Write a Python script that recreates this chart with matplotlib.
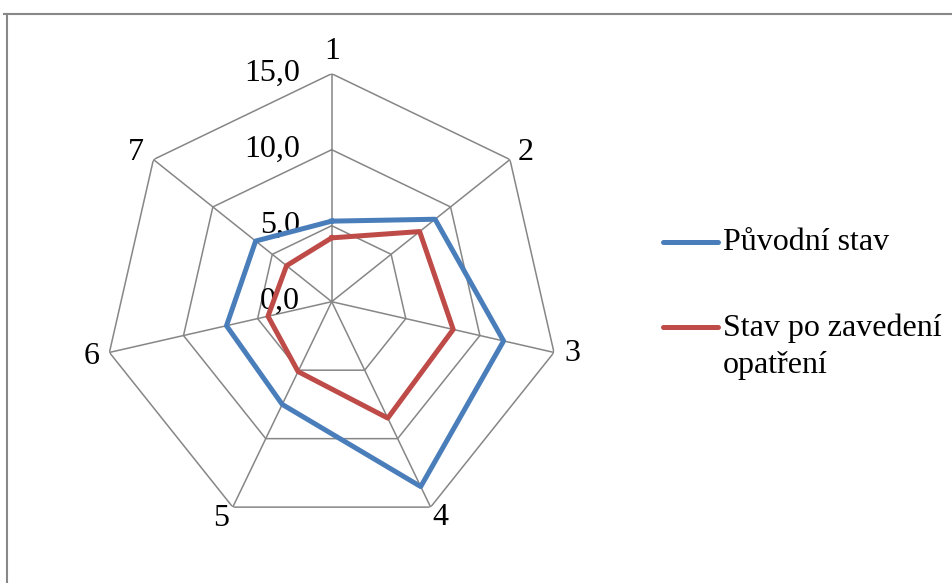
import numpy as np
import matplotlib
matplotlib.use("Agg")
import matplotlib.pyplot as plt
from matplotlib.lines import Line2D

plt.rcParams['font.family'] = ['Liberation Serif', 'DejaVu Serif']

# Radar chart data
categories = ['1', '2', '3', '4', '5', '6', '7']
puvodni_stav = [5.3, 8.7, 11.6, 13.5, 7.5, 7.1, 6.4]
stav_po_zavedeni = [4.2, 7.4, 8.2, 8.5, 5.1, 4.3, 3.8]
series_names = ['Původní stav', 'Stav po zavedení\nopatření']
ring_values = [0, 5, 10, 15]
ring_labels = ['0,0', '5,0', '10,0', '15,0']

W, H = 953, 583
FS = 23
fig = plt.figure(figsize=(W / 100, H / 100), dpi=100)

cx, cy, R = 331.7, 301.7, 228.0
ax = fig.add_axes([(cx - R) / W, (H - cy - R) / H, 2 * R / W, 2 * R / H],
                  projection='polar')
ax.set_theta_zero_location('N')
ax.set_theta_direction(-1)
ax.set_ylim(0, ring_values[-1])
ax.set_axis_off()

n = len(categories)
angles = np.linspace(0, 2 * np.pi, n, endpoint=False)
closed = np.append(angles, angles[0])

grid_color = '#868686'
# polygon rings
for rv in ring_values[1:]:
    ax.plot(closed, [rv] * (n + 1), color=grid_color, lw=1.1, zorder=1)
# spokes
for a in angles:
    ax.plot([a, a], [0, ring_values[-1]], color=grid_color, lw=1.1, zorder=1)

# ring value labels along the first spoke
for rv, lab in zip(ring_values, ring_labels):
    ax.annotate(lab, xy=(0, rv), xytext=(-32, 0), textcoords='offset pixels',
                ha='right', va='center', fontsize=FS, color='black')

# category labels just outside each vertex
label_offsets = [(0, 22), (16, 7), (18, -1), (10, -10), (-12, -11), (-18, -4), (-18, 7)]
for a, lab, off in zip(angles, categories, label_offsets):
    ax.annotate(lab, xy=(a, ring_values[-1]), xytext=off, textcoords='offset pixels',
                ha='center', va='center', fontsize=FS, color='black')

blue = '#4A7EBB'
red = '#BE4B48'
ax.plot(closed, puvodni_stav + puvodni_stav[:1], color=blue, lw=3.6,
        solid_joinstyle='round', zorder=3)
ax.plot(closed, stav_po_zavedeni + stav_po_zavedeni[:1], color=red, lw=3.6,
        solid_joinstyle='round', zorder=3)

# legend drawn in figure pixel coordinates
def fx(px):
    return px / W

def fy(py):
    return 1 - py / H

for color, yline in [(blue, 241.7), (red, 327.3)]:
    fig.add_artist(Line2D([fx(663), fx(718)], [fy(yline), fy(yline)],
                          color=color, lw=3.6, solid_capstyle='round'))
fig.text(fx(723), fy(242), series_names[0], fontsize=FS, ha='left', va='center')
first, second = series_names[1].split('\n')
fig.text(fx(723), fy(328), first, fontsize=FS, ha='left', va='center')
fig.text(fx(723), fy(366), second, fontsize=FS, ha='left', va='center')

# chart area frame (top and left edges)
fig.add_artist(Line2D([fx(4), fx(953)], [fy(13.5), fy(13.5)], color='#888888', lw=1.5))
fig.add_artist(Line2D([fx(7.5), fx(7.5)], [fy(13.5), fy(583)], color='#888888', lw=1.5))

fig.savefig('out.png', dpi=100, facecolor='white')
